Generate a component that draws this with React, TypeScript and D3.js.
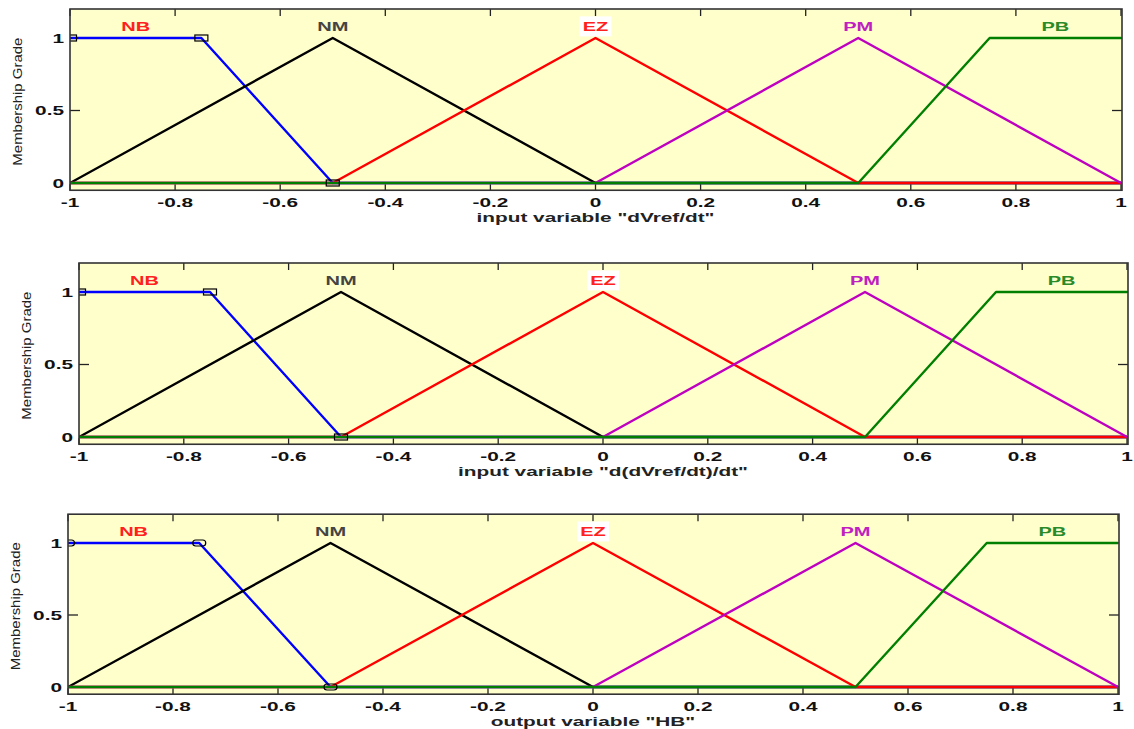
import React from "react";
import * as d3 from "d3";

const mfNames = ["NB", "NM", "EZ", "PM", "PB"];
const mfX = [
  [-1, -0.75, -0.5, 1],
  [-1, -0.5, 0, 1],
  [-1, -0.5, 0, 0.5, 1],
  [-1, 0, 0.5, 1],
  [-1, 0.5, 0.75, 1],
];
const mfY = [
  [1, 1, 0, 0],
  [0, 1, 0, 0],
  [0, 0, 1, 0, 0],
  [0, 0, 1, 0],
  [0, 0, 1, 1],
];
const labelX = [-0.875, -0.5, 0, 0.5, 0.875];
const labelY = 1.08;
const markerX = [-1, -0.75, -0.5];
const markerY = [1, 1, 0];
const xTicks = [-1, -0.8, -0.6, -0.4, -0.2, 0, 0.2, 0.4, 0.6, 0.8, 1];
const yTicks = [0, 0.5, 1];
const panelTitles = [
  'input variable "dVref/dt"',
  'input variable "d(dVref/dt)/dt"',
  'output variable "HB"',
];

const lineColors = ["#0000ff", "#000000", "#ff0000", "#bf00bf", "#007f00"];
const labelColors = ["#ff2020", "#444444", "#ff2020", "#c020c0", "#2a8a2a"];

const panels = [
  { left: 70, right: 1121, y0: 183, y1: 38, rounded: false },
  { left: 79, right: 1127, y0: 437, y1: 292, rounded: false },
  { left: 68, right: 1118, y0: 687, y1: 543, rounded: true },
];

const FONT = "'Liberation Sans', Arial, Helvetica, sans-serif";
const SX = 1.6;

function fmt(t: number) {
  return String(t);
}

function Panel({ p, idx }: { p: any; idx: number }) {
  const x = d3.scaleLinear().domain([-1, 1]).range([p.left, p.right]);
  const y = d3.scaleLinear().domain([0, 1]).range([p.y0, p.y1]);
  const top = y(1.2);
  const bottom = y(-0.05);
  const frameRight = p.right + 1;
  const line = d3
    .line<[number, number]>()
    .x((d) => x(d[0]))
    .y((d) => y(d[1]));
  const clipId = `clip${idx}`;
  const stretched = (tx: number, ty: number) =>
    `translate(${tx},${ty}) scale(${SX},1)`;
  return (
    <g>
      <defs>
        <clipPath id={clipId}>
          <rect x={p.left} y={top} width={frameRight - p.left} height={bottom - top} />
        </clipPath>
      </defs>
      <rect x={p.left} y={top} width={frameRight - p.left} height={bottom - top} fill="#ffffcc" />
      {xTicks.map((t, i) => (
        <g key={"xt" + i}>
          <line x1={x(t)} x2={x(t)} y1={top} y2={top + 7} stroke="#222" strokeWidth={1.3} />
          <line x1={x(t)} x2={x(t)} y1={bottom} y2={bottom - 6} stroke="#222" strokeWidth={1.3} />
        </g>
      ))}
      {yTicks.map((t, i) => (
        <g key={"yt" + i}>
          <line x1={p.left} x2={p.left + 10} y1={y(t)} y2={y(t)} stroke="#222" strokeWidth={1.3} />
          <line x1={frameRight} x2={frameRight - 10} y1={y(t)} y2={y(t)} stroke="#222" strokeWidth={1.3} />
        </g>
      ))}
      <g clipPath={`url(#${clipId})`}>
        {mfNames.map((n, i) => (
          <path
            key={n}
            d={line(mfX[i].map((v, j) => [v, mfY[i][j]] as [number, number])) || ""}
            fill="none"
            stroke={lineColors[i]}
            strokeWidth={2.4}
            strokeLinejoin="round"
          />
        ))}
        {markerX.map((mx, i) => (
          <rect
            key={"m" + i}
            x={x(mx) - 6.5}
            y={y(markerY[i]) - 3}
            width={13}
            height={6}
            rx={p.rounded ? 3 : 0}
            fill="none"
            stroke="#000"
            strokeWidth={1.2}
          />
        ))}
      </g>
      {mfNames.map((n, i) => (
        <g key={"lab" + n}>
          {i === 2 && (
            <rect x={x(labelX[i]) - 16} y={y(labelY) - 10} width={32} height={20} fill="#ffffff" />
          )}
          <text
            transform={stretched(x(labelX[i]), y(labelY) + 4.5)}
            textAnchor="middle"
            fontFamily={FONT}
            fontSize={12.5}
            fontWeight="bold"
            fill={labelColors[i]}
          >
            {n}
          </text>
        </g>
      ))}
      <rect
        x={p.left}
        y={top}
        width={frameRight - p.left}
        height={bottom - top}
        fill="none"
        stroke="#333"
        strokeWidth={1.6}
      />
      {xTicks.map((t, i) => (
        <text
          key={"xl" + i}
          transform={stretched(x(t), bottom + 17)}
          textAnchor="middle"
          fontFamily={FONT}
          fontSize={13}
          fontWeight="bold"
          fill="#111"
        >
          {fmt(t)}
        </text>
      ))}
      {yTicks.map((t, i) => (
        <text
          key={"yl" + i}
          transform={stretched(p.left - 6, y(t) + 4.5)}
          textAnchor="end"
          fontFamily={FONT}
          fontSize={13}
          fontWeight="bold"
          fill="#111"
        >
          {fmt(t)}
        </text>
      ))}
      <text
        transform={stretched((p.left + p.right) / 2, bottom + 32)}
        textAnchor="middle"
        fontFamily={FONT}
        fontSize={13}
        fontWeight="bold"
        fill="#222"
      >
        {panelTitles[idx]}
      </text>
      <text
        transform={`translate(${p.left - 48},${(top + bottom) / 2 + 2}) rotate(-90)`}
        textAnchor="middle"
        fontFamily={FONT}
        fontSize={12}
        fill="#222"
        textLength={128}
        lengthAdjust="spacingAndGlyphs"
      >
        Membership Grade
      </text>
    </g>
  );
}

export default function App() {
  return (
    <svg
      width={1134}
      height={729}
      style={{ position: "absolute", left: 0, top: 0, background: "#ffffff" }}
    >
      <rect x={0} y={0} width={1134} height={729} fill="#ffffff" />
      {panels.map((p, i) => (
        <Panel key={i} p={p} idx={i} />
      ))}
    </svg>
  );
}
